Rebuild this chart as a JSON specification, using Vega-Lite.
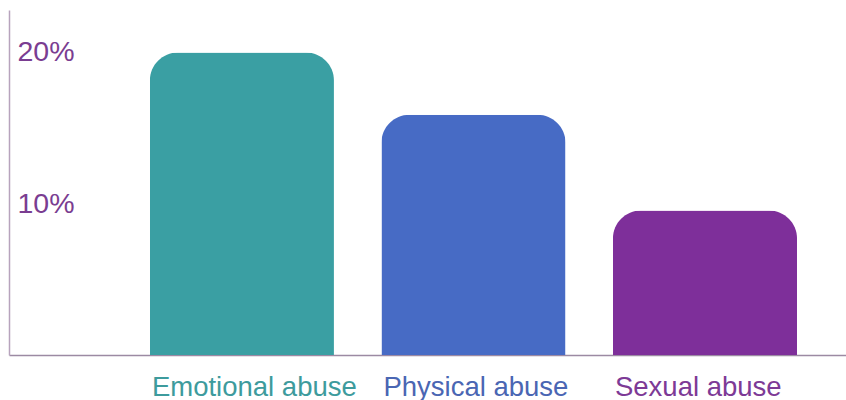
{
  "$schema": "https://vega.github.io/schema/vega-lite/v6.json",
  "width": 837,
  "height": 345,
  "padding": {"left": 9, "top": 10, "right": 0, "bottom": 45},
  "autosize": {"type": "none"},
  "background": "white",
  "config": {"view": {"stroke": null}, "font": "Liberation Sans"},
  "data": {"values": [
    {"type": "Emotional abuse", "pct": 19.9},
    {"type": "Physical abuse", "pct": 15.8},
    {"type": "Sexual abuse", "pct": 9.5}
  ]},
  "mark": {"type": "bar", "cornerRadiusTopLeft": 28, "cornerRadiusTopRight": 28},
  "encoding": {
    "x": {
      "field": "type", "type": "nominal", "sort": null,
      "scale": {"paddingInner": 0.205, "paddingOuter": 0.41, "align": 0.742},
      "axis": {
        "title": null, "labelAngle": 0, "ticks": false, "labelLimit": 0,
        "domainColor": "#9c8aa3", "domainWidth": 1.5,
        "labelFontSize": 27.5, "labelPadding": 18, "labelBaseline": "top",
        "labelAlign": "left", "labelOffset": -90,
        "labelColor": {
          "condition": [
            {"test": "datum.value === 'Emotional abuse'", "value": "#3d9b9d"},
            {"test": "datum.value === 'Physical abuse'", "value": "#4a66b3"}
          ],
          "value": "#7d3a96"
        }
      }
    },
    "y": {
      "field": "pct", "type": "quantitative",
      "scale": {"domain": [0, 22.7], "nice": false},
      "axis": {
        "title": null, "values": [10, 20], "ticks": false, "grid": false,
        "labelExpr": "datum.value + '%'",
        "labelAlign": "left", "labelPadding": -8, "labelBaseline": "middle",
        "labelFontSize": 28.5, "labelColor": "#7a3d91",
        "domainColor": "#b7a3bd", "domainWidth": 1.5
      }
    },
    "color": {
      "field": "type", "type": "nominal", "legend": null,
      "scale": {"domain": ["Emotional abuse", "Physical abuse", "Sexual abuse"], "range": ["#3a9fa3", "#476bc5", "#7e2f9a"]}
    }
  }
}
